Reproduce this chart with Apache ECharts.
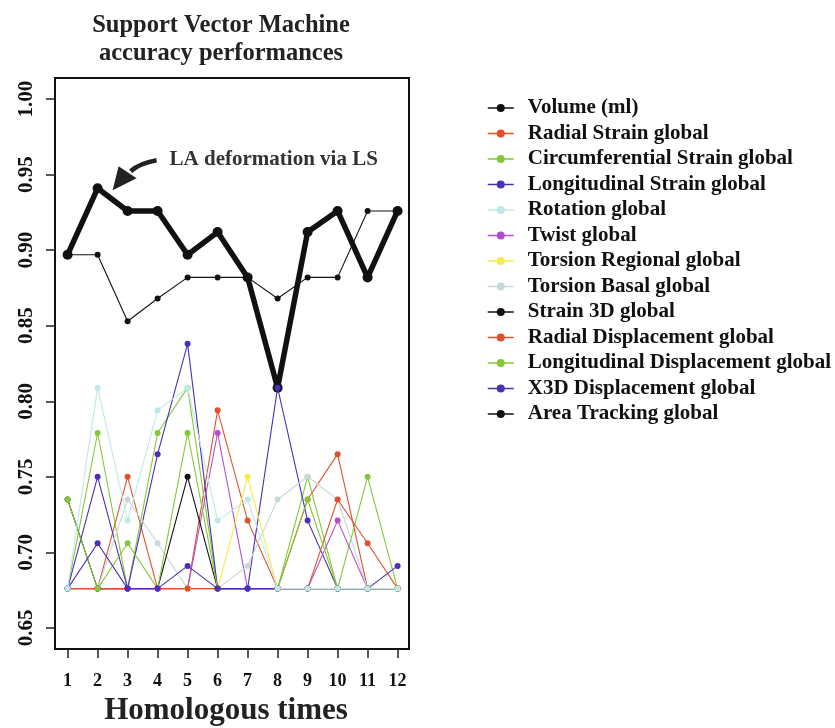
<!DOCTYPE html>
<html>
<head>
<meta charset="utf-8">
<script src="https://cdn.jsdelivr.net/npm/echarts@6/dist/echarts.min.js"></script>
<style>
html,body{margin:0;padding:0;background:#fff;}
#c{width:835px;height:728px;}
</style>
</head>
<body>
<div id="c"></div>
<script>
const times = [1,2,3,4,5,6,7,8,9,10,11,12];
const yTicks = [0.65,0.70,0.75,0.80,0.85,0.90,0.95,1.00];

const volume          = [0.897,0.897,0.853,0.868,0.882,0.882,0.882,0.868,0.882,0.882,0.926,0.926];
const radialStrain    = [0.676,0.676,0.750,0.676,0.676,0.794,0.721,0.676,0.735,0.765,0.676,0.676];
const circStrain      = [0.676,0.779,0.676,0.779,0.809,0.676,0.676,0.676,0.750,0.676,0.750,0.676];
const longStrain      = [0.676,0.750,0.676,0.765,0.838,0.676,0.676,0.809,0.721,0.676,0.676,0.676];
const rotation        = [0.676,0.809,0.721,0.794,0.809,0.721,0.735,0.676,0.676,0.676,0.676,0.676];
const twist           = [0.676,0.676,0.676,0.676,0.676,0.779,0.676,0.676,0.676,0.721,0.676,0.676];
const torsionRegional = [0.676,0.676,0.676,0.676,0.676,0.676,0.750,0.676,0.676,0.676,0.676,0.676];
const torsionBasal    = [0.676,0.676,0.735,0.706,0.676,0.676,0.691,0.735,0.750,0.735,0.676,0.676];
const strain3D        = [0.735,0.676,0.676,0.676,0.750,0.676,0.676,0.676,0.676,0.676,0.676,0.676];
const radialDisp      = [0.676,0.676,0.676,0.676,0.676,0.676,0.676,0.676,0.676,0.735,0.706,0.676];
const longDisp        = [0.735,0.676,0.706,0.676,0.779,0.676,0.676,0.676,0.735,0.676,0.676,0.676];
const x3dDisp         = [0.676,0.706,0.676,0.676,0.691,0.676,0.676,0.676,0.676,0.676,0.676,0.691];
const areaTracking    = [0.897,0.941,0.926,0.926,0.897,0.912,0.882,0.809,0.912,0.926,0.882,0.926];

const seriesNames = ['Volume (ml)','Radial Strain global','Circumferential Strain global','Longitudinal Strain global',
  'Rotation global','Twist global','Torsion Regional global','Torsion Basal global','Strain 3D global',
  'Radial Displacement global','Longitudinal Displacement global','X3D Displacement global','Area Tracking global'];
const seriesData = [volume,radialStrain,circStrain,longStrain,rotation,twist,torsionRegional,torsionBasal,
  strain3D,radialDisp,longDisp,x3dDisp,areaTracking];
const seriesColors = ['#111111','#e0512b','#84c73a','#4a30b4','#bfe8e8','#b04fd0','#f6ea48','#c6d8d8',
  '#111111','#e0512b','#84c73a','#4a30b4','#111111'];

const FONT = 'Liberation Serif';
const chart = echarts.init(document.getElementById('c'), null, {renderer:'canvas'});

const series = seriesNames.map((name, i) => {
  const thick = name === 'Area Tracking global';
  return {
    name: name,
    type: 'line',
    data: seriesData[i].map((v, j) => [times[j], v]),
    symbol: 'circle',
    symbolSize: thick ? 10 : 6,
    showSymbol: true,
    animation: false,
    z: thick ? 1 : (name === 'Rotation global' ? 3 : 2),
    lineStyle: {color: seriesColors[i], width: thick ? 5.5 : 1.1},
    itemStyle: {color: seriesColors[i]},
    emphasis: {disabled: true}
  };
});

chart.setOption({
  backgroundColor: '#fff',
  animation: false,
  title: {
    text: 'Support Vector Machine\naccuracy performances',
    left: 216, top: 6, textAlign: 'center',
    textStyle: {fontFamily: FONT, fontWeight: 'bold', fontSize: 24.5, lineHeight: 28.5, color: '#222'}
  },
  legend: {
    data: seriesNames,
    orient: 'vertical',
    left: 487, top: 97.5, padding: 0,
    itemWidth: 26, itemHeight: 10, itemGap: 4.5,
    lineStyle: {width: 1.5},
    textStyle: {fontFamily: FONT, fontWeight: 'bold', fontSize: 21, lineHeight: 21, color: '#111', padding: [0,0,0,9]},
    selectedMode: false
  },
  grid: {left: 55, top: 78, width: 354, height: 571, outerBoundsMode: 'none', containLabel: false,
    show: true, borderColor: '#111', borderWidth: 2, backgroundColor: 'transparent'},
  xAxis: {
    type: 'value', min: 0.58, max: 12.38,
    axisLine: {show: false},
    splitLine: {show: false},
    axisTick: {show: true, length: 9, lineStyle: {color: '#222', width: 1.5}, customValues: times},
    axisLabel: {customValues: times, fontFamily: FONT, fontWeight: 'bold', fontSize: 18, color: '#111', margin: 23},
    name: 'Homologous times', nameLocation: 'middle', nameGap: 46,
    nameTextStyle: {fontFamily: FONT, fontWeight: 'bold', fontSize: 31, color: '#222', padding: [0,12,0,0]}
  },
  yAxis: {
    type: 'value', min: 0.636, max: 1.014,
    axisLine: {show: false},
    splitLine: {show: false},
    axisTick: {show: true, length: 9, lineStyle: {color: '#222', width: 1.5}, customValues: yTicks},
    axisLabel: {customValues: yTicks, rotate: 90, fontFamily: FONT, fontWeight: 'bold', fontSize: 21, color: '#111', margin: 18,
      formatter: v => v.toFixed(2)}
  },
  series: series
});

// annotation anchored to the thick line peak at time 2
const peak = chart.convertToPixel({gridIndex: 0}, [times[1], areaTracking[1]]);
const tip = [peak[0] + 15, peak[1] + 2];
chart.setOption({
  graphic: [
    {type: 'bezierCurve', shape: {x1: tip[0]+18, y1: tip[1]-19, cpx1: tip[0]+27, cpy1: tip[1]-27, x2: tip[0]+44, y2: tip[1]-30},
      style: {stroke: '#222', lineWidth: 4.5, fill: null}, z: 10},
    {type: 'polygon', shape: {points: [[tip[0], tip[1]], [tip[0]+6, tip[1]-24], [tip[0]+24, tip[1]-12]]},
      style: {fill: '#222'}, z: 10},
    {type: 'text', left: tip[0]+57, top: tip[1]-41,
      style: {text: 'LA deformation via LS', font: 'bold 21px "Liberation Serif"', fill: '#333'}, z: 10}
  ]
});
</script>
</body>
</html>
